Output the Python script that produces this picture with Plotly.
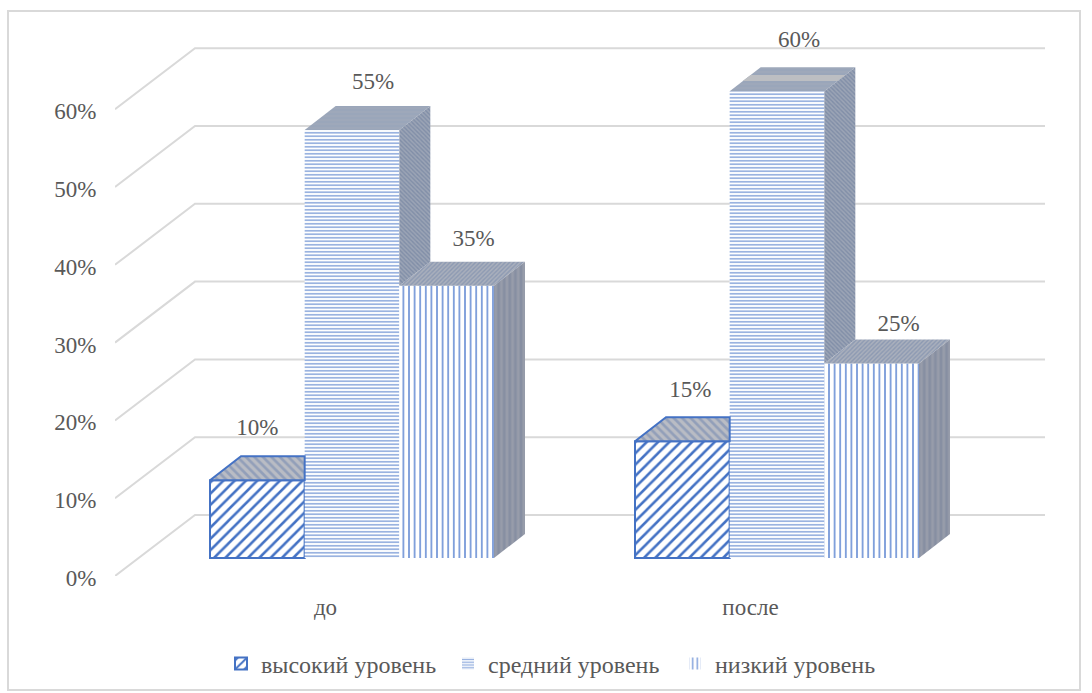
import plotly.graph_objects as go

categories = ["до", "после"]
series_names = ["высокий уровень", "средний уровень", "низкий уровень"]
high = [10, 15]
medium = [55, 60]
low = [35, 25]
tick_values = [0, 10, 20, 30, 40, 50, 60]
tick_labels = ["0%", "10%", "20%", "30%", "40%", "50%", "60%"]

series_values = [high, medium, low]

# ---------- layout scale constants (pixels) ----------
W, H = 1092, 693
P_L, P_R, P_T, P_B = 115, 1050, 12, 576
PX_CAT, PX_PCT = 425.0, 7.78
CAT0_FLOOR, CAT0_BAR = 327.5, 352.0
BAR_ZERO = 558
BAR_SPAN = 284 / PX_CAT
BAR_W = BAR_SPAN / 3
DX, DY = 31 / PX_CAT, 24 / PX_PCT
WALL_DX, WALL_DY = 80 / PX_CAT, 61 / PX_PCT
WALL_END = (1045 - CAT0_FLOOR) / PX_CAT
LABEL_DX = [[0, 21, 27], [8, 22, 27]]
LABEL_DY = [[51, 47, 45], [50, 50, 38]]

BLUE = "#4472c4"
GRID = "#d9d9d9"
TEXT = "#595959"
FONT = "Liberation Serif"
FS = 23

front = [
    dict(shape="/", size=8, solidity=0.32, fgcolor=BLUE, bgcolor="white", fillmode="replace"),
    dict(shape="-", size=3.5, solidity=0.45, fgcolor="#8fabdd", bgcolor="white", fillmode="replace"),
    dict(shape="|", size=5.6, solidity=0.33, fgcolor="#7f9fdb", bgcolor="white", fillmode="replace"),
]
top_style = [
    dict(shape="\\", size=6, solidity=0.45, fgcolor="#6c82ad", bgcolor="#b9bcc4"),
    dict(shape="-", size=4, solidity=0.5, fgcolor="#96a3ba", bgcolor="#9ea8ba"),
    dict(shape="/", size=3, solidity=0.45, fgcolor="#6f83a8", bgcolor="#a9afbc"),
]
side_style = [
    None,
    dict(shape="\\", size=3, solidity=0.45, fgcolor="#66779a", bgcolor="#9ba4b5"),
    dict(shape="|", size=5.6, solidity=0.5, fgcolor="#78829a", bgcolor="#979caa"),
]

fig = go.Figure()

# wall / floor gridlines on the back plane (base axes, below the bars)
for v in tick_values:
    fig.add_trace(go.Scatter(
        x=[-0.5, -0.5 + WALL_DX, WALL_END],
        y=[v, v + WALL_DY, v + WALL_DY],
        mode="lines", line=dict(color=GRID, width=2),
        hoverinfo="skip", showlegend=False, xaxis="x", yaxis="y",
    ))

# front faces
for s, name in enumerate(series_names):
    fig.add_trace(go.Bar(
        x=list(range(len(categories))), y=series_values[s], name=name,
        marker=dict(color="white", pattern=front[s],
                    line=dict(color=BLUE if s == 0 else "rgba(0,0,0,0)", width=2 if s == 0 else 0)),
        xaxis="x2", yaxis="y2",
    ))


def face(xs, ys, pattern, line=None):
    fig.add_trace(go.Scatter(
        x=xs, y=ys, mode="lines", fill="toself", fillpattern=pattern,
        fillcolor="rgba(0,0,0,0)",
        line=line or dict(width=0),
        hoverinfo="skip", showlegend=False, xaxis="x2", yaxis="y2",
    ))


for c in range(len(categories)):
    for s in range(3):
        v = series_values[s][c]
        nv = series_values[s + 1][c] if s < 2 else 0
        left = c - BAR_SPAN / 2 + s * BAR_W
        right = left + BAR_W
        line = dict(color=BLUE, width=2) if s == 0 else None
        if nv > v:
            xs = [left, right, right, left + DX, left]
        else:
            xs = [left, right, right + DX, left + DX, left]
        ys = [v, v, v + DY, v + DY, v]
        face(xs, ys, top_style[s], line)
        if side_style[s] is not None and nv < v:
            face([right, right + DX, right + DX, right, right],
                 [nv, nv + DY, v + DY, v, nv], side_style[s])

# lighter band on the top of the tallest bar
c, s = 1, 1
v = series_values[s][c]
l0 = c - BAR_SPAN / 2 + s * BAR_W
f0, f1 = 0.42, 0.68
fig.add_trace(go.Scatter(
    x=[l0 + f0 * DX, l0 + BAR_W + f0 * DX, l0 + BAR_W + f1 * DX, l0 + f1 * DX, l0 + f0 * DX],
    y=[v + f0 * DY, v + f0 * DY, v + f1 * DY, v + f1 * DY, v + f0 * DY],
    mode="lines", fill="toself", fillcolor="#bcbec2", line=dict(width=0),
    hoverinfo="skip", showlegend=False, xaxis="x2", yaxis="y2",
))

# data labels
lx, ly, lt = [], [], []
for c in range(len(categories)):
    for s in range(3):
        v = series_values[s][c]
        lx.append(c - BAR_SPAN / 2 + (s + 0.5) * BAR_W + LABEL_DX[c][s] / PX_CAT)
        ly.append(v + LABEL_DY[c][s] / PX_PCT)
        lt.append(f"{v}%")
fig.add_trace(go.Scatter(
    x=lx, y=ly, text=lt, mode="text", textposition="middle center",
    textfont=dict(family=FONT, size=FS, color=TEXT), cliponaxis=False,
    hoverinfo="skip", showlegend=False, xaxis="x2", yaxis="y2",
))

px_w = P_R - P_L
px_h = P_B - P_T
fig.update_layout(
    width=W, height=H, autosize=False,
    margin=dict(l=P_L, r=W - P_R, t=P_T, b=H - P_B, pad=0, autoexpand=False),
    paper_bgcolor="white", plot_bgcolor="rgba(0,0,0,0)",
    barmode="group", bargap=1 - BAR_SPAN, bargroupgap=0,
    font=dict(family=FONT, size=FS, color=TEXT),
    xaxis=dict(type="linear", range=[(P_L - CAT0_FLOOR) / PX_CAT, (P_R - CAT0_FLOOR) / PX_CAT],
               tickmode="array", tickvals=[0, 1], ticktext=categories, ticks="outside", ticklen=10,
               ticklabelshift=-2,
               tickcolor="rgba(0,0,0,0)", showgrid=False, zeroline=False, showline=False,
               automargin=False, tickfont=dict(family=FONT, size=FS, color=TEXT)),
    yaxis=dict(range=[0, px_h / PX_PCT], tickmode="array", tickvals=tick_values, ticktext=tick_labels,
               ticks="outside", ticklen=13, tickcolor="rgba(0,0,0,0)", showgrid=False,
               ticklabelshift=2,
               zeroline=False, showline=False, automargin=False,
               tickfont=dict(family=FONT, size=FS, color=TEXT)),
    xaxis2=dict(type="linear", overlaying="x", side="bottom", visible=False,
                range=[(P_L - CAT0_BAR) / PX_CAT, (P_R - CAT0_BAR) / PX_CAT]),
    yaxis2=dict(overlaying="y", side="left", visible=False,
                range=[(BAR_ZERO - P_B) / PX_PCT, (BAR_ZERO - P_T) / PX_PCT]),
    legend=dict(orientation="h", x=(221 - P_L) / px_w, xanchor="left",
                y=(P_B - 664) / px_h, yanchor="middle", itemclick=False, itemdoubleclick=False,
                entrywidth=182, entrywidthmode="pixels", font=dict(family=FONT, size=24, color=TEXT),
                bgcolor="rgba(0,0,0,0)"),
    shapes=[dict(type="rect", xref="paper", yref="paper",
                 x0=(8 - P_L) / px_w, x1=(1080 - P_L) / px_w,
                 y0=(P_B - 690) / px_h, y1=(P_B - 11) / px_h,
                 line=dict(color=GRID, width=2), fillcolor="rgba(0,0,0,0)", layer="below")],
)

fig.write_html("out.html", config={"displayModeBar": False},
               post_script="document.body.style.margin='0';document.body.style.overflow='hidden';")
